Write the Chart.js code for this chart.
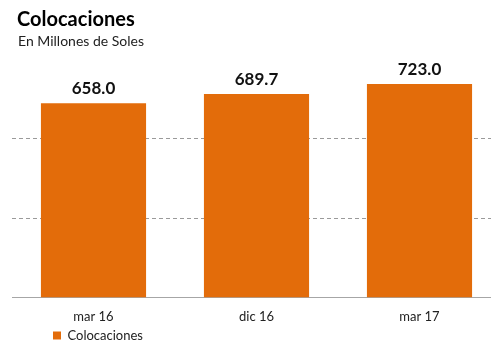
<!DOCTYPE html>
<html>
<head>
<meta charset="utf-8">
<script src="https://cdn.jsdelivr.net/npm/chart.js@4"></script>
<style>
    html, body { margin: 0; padding: 0; background: #fff; overflow: hidden; }
    #wrap { position: relative; width: 501px; height: 341px; }
</style>
</head>
<body>
<div id="wrap"><canvas id="chart"></canvas></div>
<script>
// 데이터
const categories = ["mar 16", "dic 16", "mar 17"];
const colocaciones = [658.0, 689.7, 723.0];
const gridValues = [269, 538];   // 점선 보조선 위치 (값 기준)

const titleText = "Colocaciones";
const subtitleText = "En Millones de Soles";
const orange = "#E36C0A";
const fontFamily = "Lato, 'Open Sans', sans-serif";

// 제목 / 부제목 그리기
const headerPlugin = {
    id: "header",
    afterDraw(chart) {
        const ctx = chart.ctx;
        ctx.save();
        ctx.fillStyle = "#000";
        ctx.textAlign = "left";
        ctx.textBaseline = "alphabetic";
        ctx.font = `bold 20px ${fontFamily}`;
        ctx.fillText(titleText, 17, 26);
        ctx.fillStyle = "#222";
        ctx.font = `14px ${fontFamily}`;
        ctx.fillText(subtitleText, 18, 46);
        ctx.restore();
    }
};

// 막대 위 값 표시
const valueLabelPlugin = {
    id: "valueLabels",
    afterDatasetsDraw(chart) {
        const ctx = chart.ctx;
        const meta = chart.getDatasetMeta(0);
        ctx.save();
        ctx.fillStyle = "#111";
        ctx.font = `bold 17px ${fontFamily}`;
        ctx.textAlign = "center";
        ctx.textBaseline = "bottom";
        meta.data.forEach((bar, i) => {
            ctx.fillText(colocaciones[i].toFixed(1), bar.x, bar.y - 6);
        });
        ctx.restore();
    }
};

// 범례를 왼쪽 아래로 이동
const legendShift = {
    id: "legendShift",
    afterLayout(chart) {
        const lg = chart.legend;
        if (lg) {
            lg.left += 41;
            lg.right += 41;
            lg.top -= 8;
            lg.bottom -= 8;
        }
    }
};

const ctx = document.getElementById("chart").getContext("2d");
new Chart(ctx, {
    type: "bar",
    data: {
        labels: categories,
        datasets: [{
            label: "Colocaciones",
            data: colocaciones,
            backgroundColor: orange,
            borderWidth: 0,
            categoryPercentage: 1.0,
            barPercentage: 0.645
        }]
    },
    options: {
        responsive: true,
        maintainAspectRatio: false,
        animation: false,
        layout: {
            padding: { top: 59, left: 12, right: 0, bottom: -19 }
        },
        scales: {
            x: {
                grid: { display: false, drawTicks: false },
                border: { display: true, color: "#a6a6a6", width: 1 },
                ticks: {
                    color: "#222",
                    padding: 12,
                    font: { family: fontFamily, size: 13 }
                }
            },
            y: {
                min: 0,
                max: 808,
                afterBuildTicks: (axis) => {
                    axis.ticks = gridValues.map(v => ({ value: v }));
                },
                ticks: { display: false },
                border: { display: false, dash: [4, 3] },
                grid: {
                    drawTicks: false,
                    color: "#9a9a9a",
                    lineWidth: 1
                }
            }
        },
        plugins: {
            legend: {
                display: true,
                position: "bottom",
                align: "start",
                labels: {
                    boxWidth: 8,
                    boxHeight: 8,
                    padding: 0,
                    color: "#222",
                    font: { family: fontFamily, size: 13 }
                }
            },
            tooltip: { enabled: false }
        }
    },
    plugins: [headerPlugin, valueLabelPlugin, legendShift]
});
</script>
</body>
</html>
